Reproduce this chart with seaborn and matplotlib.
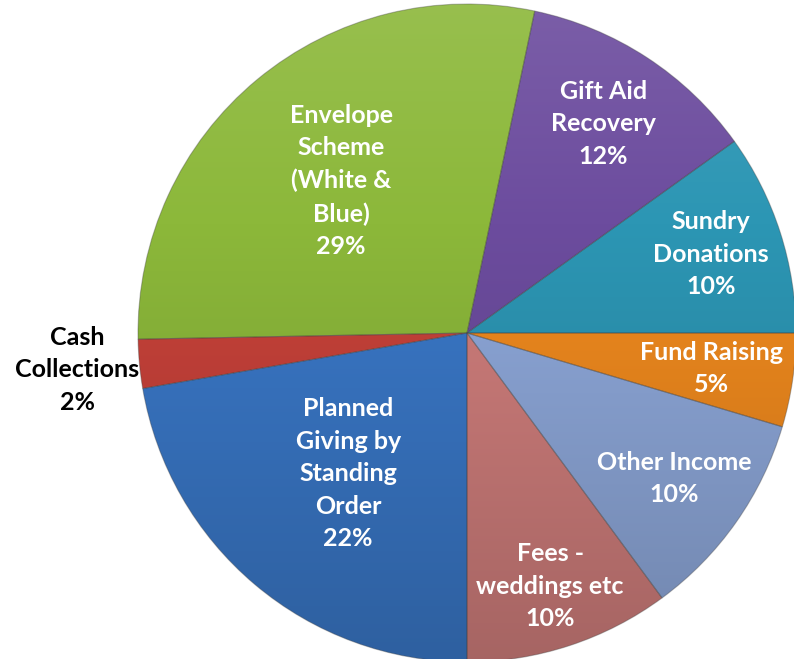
import numpy as np
import matplotlib
matplotlib.use("Agg")
import matplotlib.pyplot as plt
import matplotlib.colors as mcolors
import seaborn as sns

# slice data, counter-clockwise from 3 o'clock
categories = ["Sundry\nDonations", "Gift Aid\nRecovery", "Envelope\nScheme\n(White &\nBlue)",
              "Cash\nCollections", "Planned\nGiving by\nStanding\nOrder", "Fees -\nweddings etc",
              "Other Income", "Fund Raising"]
shares = [9.9, 11.8, 28.6, 2.4, 22.3, 10.1, 10.3, 4.6]
base_colors = ["#2C96B4", "#6C4C9E", "#8CB83A", "#C8423A", "#3A78C8", "#D07E7C", "#8EA8DA", "#F08A1E"]

# label placement (fraction of radius) and text colour
label_radius = [0.78, 0.76, 0.60, 1.19, 0.56, 0.81, 0.77, 0.75]
label_colors = ["white", "white", "white", "black", "white", "white", "white", "white"]

sns.set_theme(style="white")
plt.rcParams["font.family"] = ["Lato", "DejaVu Sans"]

fig = plt.figure(figsize=(7.94, 6.59), dpi=100)
cx, cy, R = 467, 333, 329
W, H = 794, 659
ax = fig.add_axes([(cx - R) / W, (H - cy - R) / H, 2 * R / W, 2 * R / H])

wedges, _ = ax.pie(shares, startangle=0, counterclock=True, radius=1,
                   colors=["none"] * len(shares),
                   wedgeprops=dict(linewidth=0.8, edgecolor=(0.25, 0.25, 0.25, 0.35)))

# vertical light-to-dark shading inside each slice
n = 256
shade = np.linspace(1.10, 0.80, n)
for w, c in zip(wedges, base_colors):
    rgb = np.array(mcolors.to_rgb(c))
    img = np.zeros((n, 1, 3))
    for i, f in enumerate(shade):
        if f >= 1:
            img[i, 0] = rgb + (1 - rgb) * (f - 1)
        else:
            img[i, 0] = rgb * f
    im = ax.imshow(img, extent=(-1, 1, -1, 1), origin="upper", aspect="auto",
                   interpolation="bilinear", zorder=0.5)
    im.set_clip_path(w)

total = sum(shares)
for w, name, v, r, tc in zip(wedges, categories, shares, label_radius, label_colors):
    mid = np.deg2rad((w.theta1 + w.theta2) / 2)
    ax.text(r * np.cos(mid), r * np.sin(mid), f"{name}\n{round(v / total * 100)}%",
            ha="center", va="center", color=tc, fontsize=18, fontweight="bold",
            linespacing=1.5, zorder=3)

ax.set_xlim(-1, 1)
ax.set_ylim(-1, 1)
ax.set_aspect("auto")
ax.set_axis_off()
for t in ax.texts:
    t.set_clip_on(False)

fig.savefig("out.png", dpi=100)
